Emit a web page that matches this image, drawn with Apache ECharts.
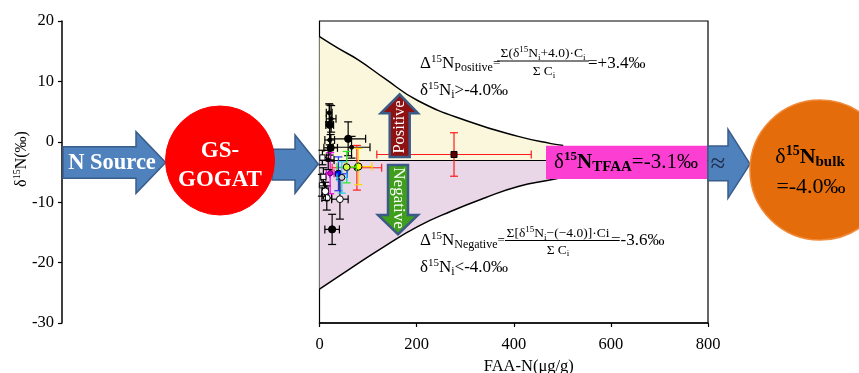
<!DOCTYPE html>
<html><head><meta charset="utf-8">
<script src="https://cdn.jsdelivr.net/npm/echarts@6/dist/echarts.min.js"></script>
<style>html,body{margin:0;padding:0;background:#fff}#c{width:859px;height:373px}</style>
</head><body><div id="c"></div>
<script>
// ---------------- data ----------------
const xTickValues = [0, 200, 400, 600, 800];
const yTickValues = [20, 10, 0, -10, -20, -30];
const tfaaMean = -3.1;
const upperCurveX = [0, 38, 79, 134, 203, 306, 409, 477, 502];
const upperCurveY = [17.4, 15.5, 13.6, 10.5, 6.8, 3.4, 0.9, -0.3, -0.6];
const lowerCurveX = [0, 65, 134, 203, 271, 340, 409, 477, 512];
const lowerCurveY = [-24.4, -20.9, -17.3, -14.0, -11.5, -9.3, -7.4, -6.3, -5.7];
const pointX    = [277, 59, 21, 23, 66, 20, 21, 26, 42, 15, 5, 8, 77, 80, 56, 39, 22, 46, 18, 6, 24, 12];
const pointY    = [-2.1, 0.5, 2.8, -1.0, -0.9, 4.8, 0.3, -14.5, -9.5, -9.3, -7.2, -5.8, -4.3, -4.1, -4.2, -5.3, -5.2, -5.9, -3.0, -2.6, 3.8, -8.2];
const pointXErr = [159, 36, 8, 14, 38, 6, 10, 15, 17, 10, 6, 5, 51, 28, 20, 18, 8, 10, 12, 8, 10, 6];
const pointYErr = [3.6, 2.8, 3.3, 2.2, 1.8, 1.5, 2.5, 2.5, 3.3, 2.0, 1.8, 1.5, 3.7, 3.0, 2.6, 2.8, 3.4, 2.6, 1.6, 1.2, 2.2, 1.5];
const pointGroup = ['R','K','K','K','k','k','k','K','O','O','Q','Q','Or','Y','G','B','M','C','k','Q','k','O'];
const labels = {
  xName: 'FAA-N(μg/g)',
  source: 'N Source', gs1: 'GS-', gs2: 'GOGAT', pos: 'Positive', neg: 'Negative',
  posRes: '=+3.4‰', negRes: '=-3.6‰', tfaa: '=-3.1‰', bulk: '=-4.0‰', approx: '≈'
};

// ---------------- styles ----------------
const F = '"Liberation Serif","Times New Roman",serif';
const groupStyle = {
  R:  {bar:'#ff1a1a', fill:'#5a0000', stroke:'#000', shape:'sq', r:3},
  K:  {bar:'#000', fill:'#000', stroke:'#000', shape:'c', r:3.6},
  k:  {bar:'#000', fill:'#000', stroke:'#000', shape:'c', r:2},
  O:  {bar:'#000', fill:'#fff', stroke:'#000', shape:'c', r:3.4},
  Q:  {bar:'#000', fill:'#fff', stroke:'#000', shape:'sq', r:2.6},
  Or: {bar:'#ff2020', fill:'#ff9900', stroke:'#000', shape:'c', r:3},
  Y:  {bar:'#ffd800', fill:'#ffff00', stroke:'#000', shape:'c', r:3.6},
  G:  {bar:'#22ee22', fill:'#ccff44', stroke:'#000', shape:'c', r:3.4},
  B:  {bar:'#2233ff', fill:'#0010dd', stroke:'#000', shape:'c', r:3.6},
  M:  {bar:'#ee00ee', fill:'#cc00cc', stroke:'#600060', shape:'c', r:2.6},
  C:  {bar:'#22d0f0', fill:'#cfcfcf', stroke:'#000', shape:'c', r:3}
};
function rich(size, color) {
  color = color || '#000';
  const s = Math.round(size * 0.64), b = Math.round(size * 0.7);
  return {
    m:   {fontSize:size, fontFamily:F, color, lineHeight:size+3, verticalAlign:'middle'},
    mb:  {fontSize:size, fontFamily:F, color, fontWeight:'bold', lineHeight:size+3, verticalAlign:'middle'},
    sup: {fontSize:s, fontFamily:F, color, lineHeight:s, verticalAlign:'top'},
    supb:{fontSize:s, fontFamily:F, color, fontWeight:'bold', lineHeight:s, verticalAlign:'top'},
    sub: {fontSize:b, fontFamily:F, color, lineHeight:b, verticalAlign:'bottom'},
    subb:{fontSize:b, fontFamily:F, color, fontWeight:'bold', lineHeight:b, verticalAlign:'bottom'},
    eq:  {fontSize:13, fontFamily:F, color, lineHeight:size+3, verticalAlign:'middle'}
  };
}
function txt(x, y, text, size, o) {
  o = o || {};
  const al = o.align || 'left';
  return {
    type:'text', x, y, z:200, rotation:o.rot || 0,
    style:{text, rich:rich(size, o.color), fill:o.color || '#000', font: size + 'px ' + F,
      align:al, textAlign:al, verticalAlign:'middle', textVerticalAlign:'middle'}
  };
}
const arrowFill = '#4f81bd', arrowStroke = '#385d8a';
function poly(points, fill, stroke, lw) {
  return {type:'polygon', z:150, shape:{points}, style:{fill, stroke, lineWidth:lw}};
}

// ---------------- series data ----------------
const upperData = upperCurveX.map((x, i) => [x, upperCurveY[i]]);
const lowerData = lowerCurveX.map((x, i) => [x, lowerCurveY[i]]);
const errData = pointX.map((x, i) => [x, pointY[i], pointXErr[i], pointYErr[i]]);

function renderErr(params, api) {
  const i = params.dataIndex;
  const st = groupStyle[pointGroup[i]];
  const x = api.value(0), y = api.value(1), xe = api.value(2), ye = api.value(3);
  const l = api.coord([Math.max(0, x - xe), y]), r = api.coord([x + xe, y]);
  const t = api.coord([x, y + ye]), b = api.coord([x, y - ye]), c = api.coord([x, y]);
  const cap = 4;
  const ls = {stroke:st.bar, lineWidth:1.2};
  const ch = [
    {type:'line', shape:{x1:l[0], y1:l[1], x2:r[0], y2:r[1]}, style:ls},
    {type:'line', shape:{x1:t[0], y1:t[1], x2:b[0], y2:b[1]}, style:ls},
    {type:'line', shape:{x1:t[0]-cap, y1:t[1], x2:t[0]+cap, y2:t[1]}, style:ls},
    {type:'line', shape:{x1:b[0]-cap, y1:b[1], x2:b[0]+cap, y2:b[1]}, style:ls},
    {type:'line', shape:{x1:r[0], y1:r[1]-cap, x2:r[0], y2:r[1]+cap}, style:ls}
  ];
  if (x - xe > 0) ch.push({type:'line', shape:{x1:l[0], y1:l[1]-cap, x2:l[0], y2:l[1]+cap}, style:ls});
  if (st.shape === 'sq') {
    ch.push({type:'rect', shape:{x:c[0]-st.r, y:c[1]-st.r, width:2*st.r, height:2*st.r}, style:{fill:st.fill, stroke:st.stroke, lineWidth:1}});
  } else {
    ch.push({type:'circle', shape:{cx:c[0], cy:c[1], r:st.r}, style:{fill:st.fill, stroke:st.stroke, lineWidth:1}});
  }
  return {type:'group', children:ch};
}

const chart = echarts.init(document.getElementById('c'), null, {renderer:'canvas'});
const option = {
  animation:false,
  grid:{left:319.5, right:151, top:21, bottom:50, show:true, borderColor:'#000', borderWidth:1.2,
    backgroundColor:'transparent', containLabel:false, outerBoundsMode:'none'},
  xAxis:{type:'value', min:0, max:800, interval:200,
    axisLine:{show:true, onZero:false, lineStyle:{color:'#000', width:1.5}},
    axisTick:{show:true, length:4, lineStyle:{color:'#000', width:1.2}},
    axisLabel:{fontFamily:F, fontSize:16.5, color:'#000', margin:13,
      formatter:v => xTickValues.includes(v) ? String(v) : ''},
    splitLine:{show:false},
    name:labels.xName, nameLocation:'middle', nameGap:32,
    nameTextStyle:{fontFamily:F, fontSize:16.5, color:'#000', padding:[0,0,0,30]}},
  yAxis:{type:'value', min:-30, max:20, interval:10, position:'left', offset:257.5,
    axisLine:{show:true, onZero:false, lineStyle:{color:'#000', width:1.5}},
    axisTick:{show:true, length:4, lineStyle:{color:'#000', width:1.2}},
    axisLabel:{fontFamily:F, fontSize:16.5, color:'#000', margin:8,
      formatter:v => yTickValues.includes(v) ? String(v) : ''},
    splitLine:{show:false}},
  series:[
    {type:'line', data:upperData, smooth:true, symbol:'none', z:1,
      lineStyle:{color:'#000', width:1.5},
      areaStyle:{origin:tfaaMean, color:'#fbf7dd', opacity:1}},
    {type:'line', data:lowerData, smooth:true, symbol:'none', z:1,
      lineStyle:{color:'#000', width:1.5},
      areaStyle:{origin:tfaaMean, color:'#e9d6e6', opacity:1}},
    {type:'line', data:[[0, tfaaMean], [800, tfaaMean]], symbol:'none', z:2,
      lineStyle:{color:'#000', width:1.2}},
    {type:'custom', data:errData, renderItem:renderErr, z:3, clip:false}
  ],
  graphic:[
    // N source arrow
    poly([[63,146.7],[136,146.7],[136,131.7],[165.7,162.5],[136,193.3],[136,178.3],[63,178.3]], arrowFill, arrowStroke, 1.5),
    txt(112, 163, '{mb|' + labels.source + '}', 22.5, {align:'center', color:'#fff'}),
    // arrow 2
    poly([[272,149.3],[295,149.3],[295,135],[318.3,164],[295,193.3],[295,180],[272,180]], arrowFill, arrowStroke, 1.5),
    {type:'circle', z:160, shape:{cx:220, cy:160.5, r:54.5}, style:{fill:'#ff0000', stroke:'#ff0000'}},
    txt(220, 151.5, '{mb|' + labels.gs1 + '}', 23, {align:'center', color:'#fff'}),
    txt(220, 180, '{mb|' + labels.gs2 + '}', 23, {align:'center', color:'#fff'}),
    // positive / negative arrows
    poly([[399.7,94.3],[418,113.3],[409.7,113.3],[409.7,157],[389.7,157],[389.7,113.3],[380.7,113.3]], '#8e1212', '#3b5b86', 2.5),
    txt(400, 127, '{m|' + labels.pos + '}', 16.5, {align:'center', color:'#fff', rot:Math.PI/2}),
    poly([[388,165],[408,165],[408,215],[418,215],[398,234.3],[378,215],[388,215]], '#3f9e1c', '#3b5b86', 2.5),
    txt(398, 198, '{m|' + labels.neg + '}', 17, {align:'center', color:'#fff', rot:-Math.PI/2}),
    // pink TFAA box
    {type:'rect', z:150, shape:{x:546, y:145.7, width:161, height:33.3}, style:{fill:'#fc3fd2'}},
    txt(626, 162.5, '{m|δ}{supb|15}{mb|N}{subb|TFAA}{m|' + labels.tfaa + '}', 21, {align:'center'}),
    // arrow 3 and bulk circle
    poly([[708,146],[728,146],[728,129.3],[750,164],[728,198.3],[728,180.7],[708,180.7]], arrowFill, arrowStroke, 1.5),
    txt(718, 165, '{m|' + labels.approx + '}', 27, {align:'center', color:'#1f2d4a'}),
    {type:'circle', z:160, shape:{cx:820, cy:170, r:70}, style:{fill:'#e46c0a', stroke:'#f08a3a', lineWidth:1.5}},
    txt(810, 157, '{m|δ}{supb|15}{mb|N}{subb|bulk}', 22, {align:'center'}),
    txt(811, 187, '{m|' + labels.bulk + '}', 22, {align:'center'}),
    // y axis name
    txt(22, 159, '{m|δ}{sup|15}{m|N(‰)}', 16, {align:'center', rot:Math.PI/2}),
    // positive formula
    txt(420, 63.5, '{m|Δ}{sup|15}{m|N}{sub|Positive}{eq|=}', 17),
    txt(543, 53.5, '{m|Σ(δ}{sup|15}{m|N}{sub|i}{m|+4.0)·C}{sub|i}', 13.5, {align:'center'}),
    {type:'line', z:200, shape:{x1:497, y1:61, x2:589, y2:61}, style:{stroke:'#000', lineWidth:1}},
    txt(544, 71.5, '{m|Σ C}{sub|i}', 13.5, {align:'center'}),
    txt(588, 63.5, '{m|' + labels.posRes + '}', 17),
    txt(420, 91, '{m|δ}{sup|15}{m|N}{sub|i}{m|>-4.0‰}', 17),
    // negative formula
    txt(420, 241, '{m|Δ}{sup|15}{m|N}{sub|Negative}{eq|=}', 17),
    txt(558, 233.5, '{m|Σ[δ}{sup|15}{m|N}{sub|i}{m|−(−4.0)]·Ci}', 13.5, {align:'center'}),
    {type:'line', z:200, shape:{x1:505, y1:240.5, x2:612, y2:240.5}, style:{stroke:'#000', lineWidth:1}},
    txt(558, 250, '{m|Σ C}{sub|i}', 13.5, {align:'center'}),
    txt(611, 241, '{m|' + labels.negRes + '}', 17),
    txt(420, 268, '{m|δ}{sup|15}{m|N}{sub|i}{m|<-4.0‰}', 17)
  ]
};
chart.setOption(option);
</script>
</body></html>
